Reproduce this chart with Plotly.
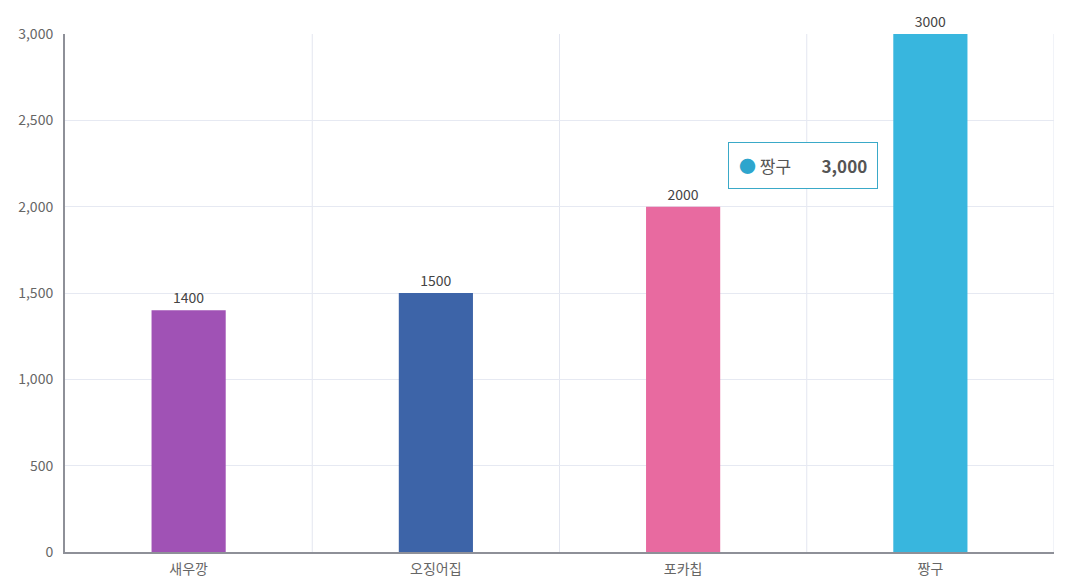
import plotly.graph_objects as go

categories = ["새우깡", "오징어집", "포카칩", "짱구"]
values = [1400, 1500, 2000, 3000]
colors = ["#a052b5", "#3d64a8", "#e86aa0", "#38b6de"]
y_ticks = [0, 500, 1000, 1500, 2000, 2500, 3000]

FONT = "Noto Sans CJK KR"

fig = go.Figure()
fig.add_trace(go.Bar(
    x=categories, y=values,
    marker=dict(color=colors, line=dict(width=0)),
    width=0.3,
    text=[str(v) for v in values],
    textposition="outside",
    cliponaxis=False,
    textfont=dict(family=FONT, size=14, color="#444"),
    hoverinfo="skip",
))

shapes = []
for b in [0.5, 1.5, 2.5, 3.5]:
    shapes.append(dict(type="line", xref="x", yref="paper", x0=b, x1=b, y0=0, y1=1,
                       line=dict(color="#e3e6f0", width=1), layer="below"))
fig.update_layout(shapes=shapes)

# static tooltip
fig.add_annotation(
    xref="x", yref="y", x=2.485, y=2240, xanchor="center", yanchor="middle",
    text="<span style='color:#2ea5cd'>●</span> 짱구&nbsp;&nbsp;&nbsp;&nbsp;&nbsp;&nbsp;&nbsp;&nbsp;<b>" + f"{values[3]:,}" + "</b>",
    showarrow=False,
    font=dict(family=FONT, size=17, color="#555"),
    bgcolor="white", bordercolor="#3aa9c8", borderwidth=1, borderpad=10,
)

fig.update_layout(
    width=1058, height=571,
    margin=dict(l=57, r=12, t=26, b=27),
    paper_bgcolor="white", plot_bgcolor="white",
    showlegend=False,
    font=dict(family=FONT, size=14, color="#666"),
    xaxis=dict(
        type="category", range=[-0.5, 3.5], automargin=False,
        showgrid=False, showline=True, linecolor="#8e9098", linewidth=2,
        ticks="", ticklabelstandoff=3, tickfont=dict(family=FONT, size=14, color="#666"),
    ),
    yaxis=dict(
        range=[0, 3000], tickvals=y_ticks, tickformat=",d", automargin=False,
        showgrid=True, gridcolor="#e6e9f2", gridwidth=1,
        showline=True, linecolor="#8e9098", linewidth=2,
        zeroline=False, ticks="", ticklen=0, ticklabelstandoff=7,
        tickfont=dict(family=FONT, size=14, color="#666"),
    ),
)

fig.write_html("out.html")
